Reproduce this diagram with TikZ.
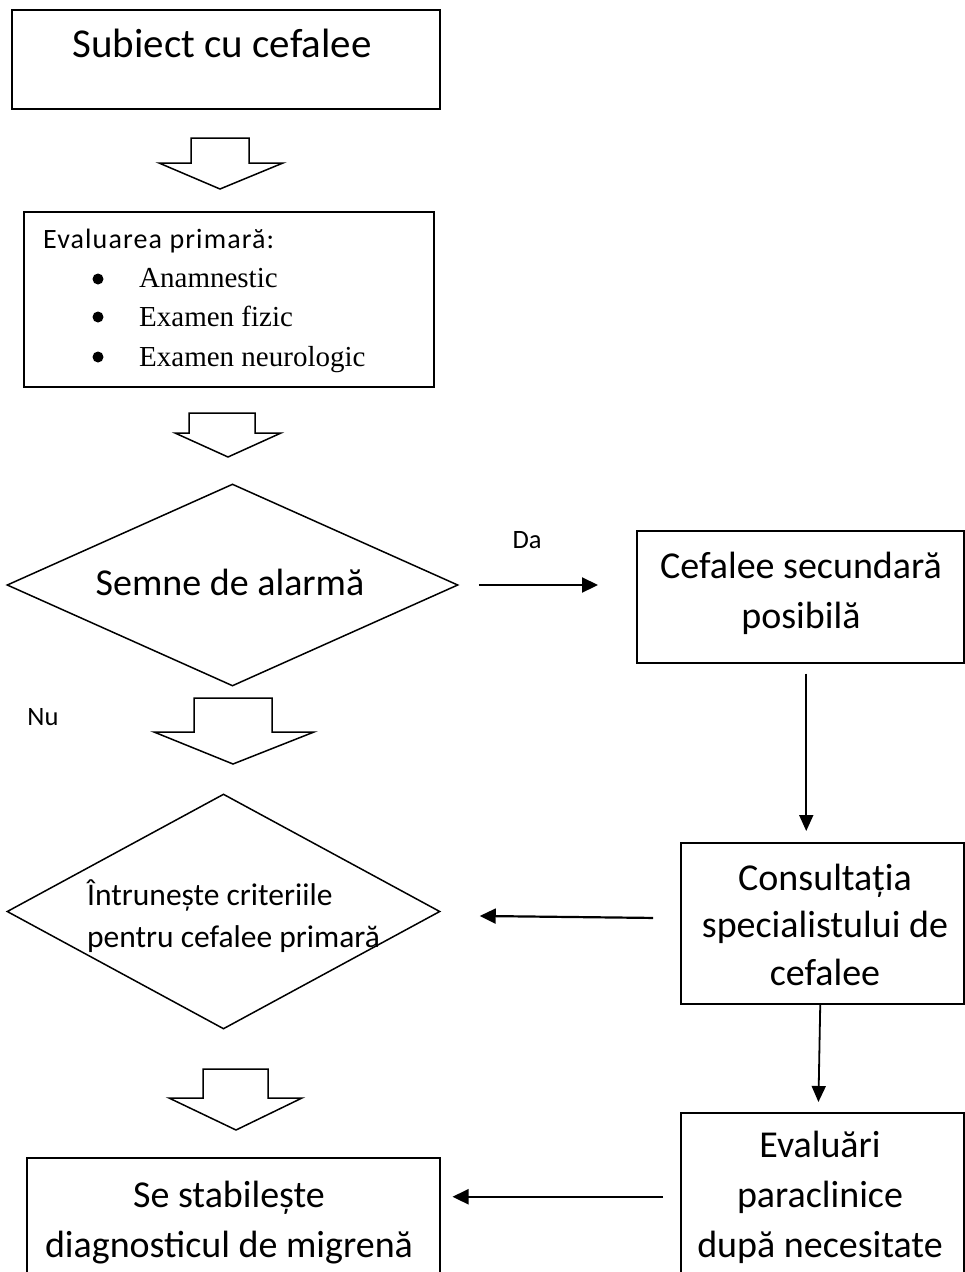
\documentclass[tikz,border=0pt]{standalone}
\usepackage{fontspec}
\setmainfont{Carlito}
\newfontfamily\timesfont{Liberation Serif}
\newfontfamily\spacedfont[LetterSpace=4]{Carlito}
\usetikzlibrary{shapes.geometric,arrows.meta}
\begin{document}
\begin{tikzpicture}[x=1pt,y=-1pt,
  box/.style={draw, line width=1.5pt, rectangle, inner sep=0pt, anchor=north west},
  dia/.style={draw, line width=1.5pt, diamond, inner sep=0pt},
  blk/.style={draw, line width=1.5pt, line join=miter, fill=white},
  arr/.style={line width=2.2pt, -{Triangle[length=16pt,width=15pt]}},
  varr/.style={line width=1.8pt, -{Triangle[length=16pt,width=14pt]}},
  txt/.style={inner sep=0pt, anchor=base, font=\fontsize{38}{46}\selectfont},
  ltxt/.style={inner sep=0pt, anchor=base west},
  lbl/.style={inner sep=0pt, anchor=base, font=\fontsize{26.5}{32}\selectfont},
  item/.style={inner sep=0pt, anchor=base west, font=\timesfont\fontsize{29}{34}\selectfont},
]
\useasboundingbox (0,0) rectangle (965,1272);
\clip (0,0) rectangle (965,1272);

% boxes
\node[box, minimum width=428pt, minimum height=99pt] (b1) at (11,9) {};
\node[box, minimum width=410pt, minimum height=175pt] (b2) at (23,211) {};
\node[box, minimum width=327pt, minimum height=132pt] (c1) at (636,530) {};
\node[box, minimum width=283pt, minimum height=161pt] (c2) at (680,842) {};
\node[box, minimum width=283pt, minimum height=190pt] (c3) at (680,1112) {};
\node[box, minimum width=413pt, minimum height=145pt] (b5) at (26,1157) {};

% diamonds
\node[dia, minimum width=451pt, minimum height=202pt] (d1) at (232.5,585) {};
\node[dia, minimum width=433pt, minimum height=235pt] (d2) at (223.5,911.5) {};

% block arrows
\draw[blk] (191,138) -- (249,138) -- (249,163) -- (283,163) -- (220,189) -- (159,163) -- (191,163) -- cycle;
\draw[blk] (189,413) -- (255,413) -- (255,433) -- (281,433) -- (228,457) -- (175,433) -- (189,433) -- cycle;
\draw[blk] (194,698) -- (272,698) -- (272,732) -- (314,732) -- (233,764) -- (154,732) -- (194,732) -- cycle;
\draw[blk] (203,1069) -- (268,1069) -- (268,1098) -- (302,1098) -- (236,1130) -- (169,1098) -- (203,1098) -- cycle;

% texts
\node[txt, font=\fontsize{41}{48}\selectfont] (t1) at (222,57) {Subiect cu cefalee};

\node[ltxt, font=\spacedfont\fontsize{28}{34}\selectfont] (t2) at (43,248) {Evaluarea primară:};
\fill (98,279) circle (5.5pt);
\fill (98,317) circle (5.5pt);
\fill (98,357) circle (5.5pt);
\node[item] (i1) at (139,287) {Anamnestic};
\node[item] (i2) at (139,326) {Examen fizic};
\node[item] (i3) at (139,366) {Examen neurologic};

\node[txt] (t3) at (230,595) {Semne de alarmă};

\node[txt] (t4a) at (801,578) {Cefalee secundară};
\node[txt] (t4b) at (801,628) {posibilă};

\node[ltxt, font=\fontsize{31.5}{38}\selectfont] (t5a) at (87,905) {Întrunește criteriile};
\node[ltxt, font=\fontsize{31.5}{38}\selectfont] (t5b) at (87,947) {pentru cefalee primară};

\node[txt] (t6a) at (825,890) {Consultația};
\node[txt] (t6b) at (825,937) {specialistului de};
\node[txt] (t6c) at (825,985) {cefalee};

\node[txt] (t7a) at (820,1157) {Evaluări};
\node[txt] (t7b) at (820,1207) {paraclinice};
\node[txt] (t7c) at (820,1257) {după necesitate};

\node[txt] (t8a) at (229,1207) {Se stabilește};
\node[txt] (t8b) at (229,1257) {diagnosticul de migrenă};

\node[lbl] (da) at (527,548) {Da};
\node[lbl] (nu) at (43,725) {Nu};

% connectors
\draw[arr, shorten <=20pt, shorten >=38pt] (d1.east) -- (d1.east -| c1.west);
\draw[varr, shorten <=10pt, shorten >=11pt] ([xshift=6pt]c1.south) -- ([xshift=6pt]c1.south |- c2.north);
\draw[arr, shorten <=27pt, shorten >=39pt] ([yshift=5pt]c2.west) -- ([yshift=-4pt]d2.east);
\draw[varr, shorten >=10pt] ([xshift=-2pt]c2.south) -- ([xshift=-4pt]c3.north);
\draw[arr, shorten <=17pt, shorten >=12pt] ([yshift=11pt]c3.west) -- ([yshift=11pt]c3.west -| b5.east);
\end{tikzpicture}
\end{document}
